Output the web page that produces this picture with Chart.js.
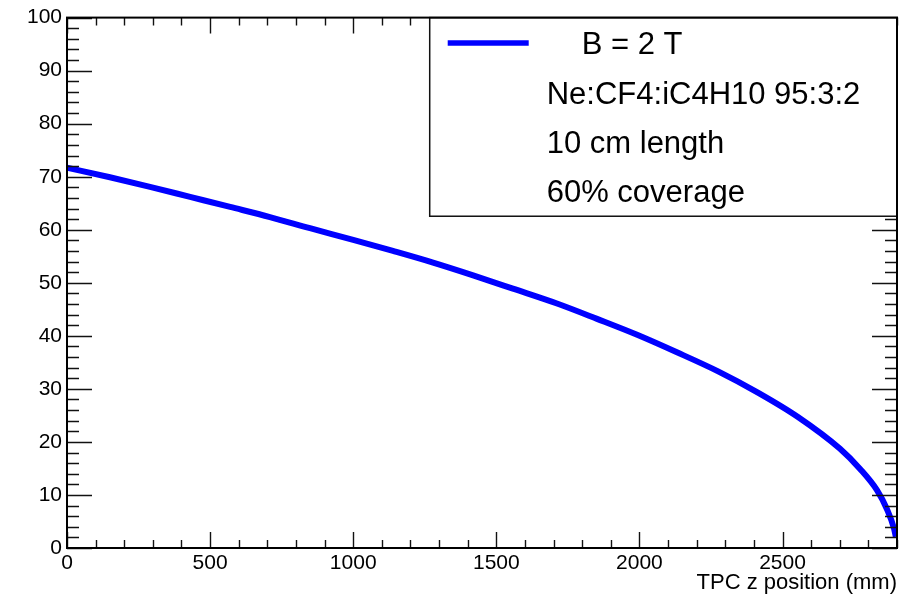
<!DOCTYPE html>
<html>
<head>
<meta charset="utf-8">
<script src="https://cdn.jsdelivr.net/npm/chart.js@4"></script>
<style>
  body { margin: 0; background: #fff; }
  canvas { display: block; }
</style>
</head>
<body>
<canvas id="gainChart" width="912" height="598"></canvas>
<script>
// Curve (TPC z position in mm -> value)
const zPos = [0, 150, 290, 430, 570, 709, 849, 1000, 1139, 1279, 1419, 1558, 1712, 1852, 1992, 2131, 2275, 2414, 2554, 2701, 2771, 2830, 2865, 2890, 2896];
const curveVals = [71.7, 69.9, 68.1, 66.2, 64.3, 62.4, 60.3, 58.1, 56.0, 53.8, 51.4, 48.9, 46.1, 43.2, 40.2, 36.9, 33.3, 29.3, 24.7, 18.7, 14.9, 10.9, 7.3, 3.6, 2.1];

// Axis ranges / tick labels
const xRange = [0, 2900];
const yRange = [0, 100];
const xTickVals = [0, 500, 1000, 1500, 2000, 2500];
const yTickVals = [0, 10, 20, 30, 40, 50, 60, 70, 80, 90, 100];
const xMinor = 100, yMinor = 2;

const xTitle = 'TPC z position (mm)';
const legendLabel = 'B = 2 T';
const legendNotes = ['Ne:CF4:iC4H10 95:3:2', '10 cm length', '60% coverage'];

const FONT = '"Liberation Sans", Arial, Helvetica, sans-serif';

// Draws ROOT-style inward ticks, the frame and the legend box
const rootFrame = {
    id: 'rootFrame',
    afterDatasetsDraw(chart) {
        const ctx = chart.ctx;
        const { left, right, top, bottom } = chart.chartArea;
        const xs = chart.scales.x, ys = chart.scales.y;

        ctx.save();
        ctx.strokeStyle = '#111';
        ctx.lineWidth = 1.4;
        ctx.beginPath();
        // x ticks (bottom and top)
        for (let v = xRange[0]; v <= xRange[1]; v += xMinor) {
            const px = Math.round(xs.getPixelForValue(v)) + 0.5;
            const len = xTickVals.includes(v) ? 16 : 8;
            ctx.moveTo(px, bottom); ctx.lineTo(px, bottom - len);
            ctx.moveTo(px, top); ctx.lineTo(px, top + len);
        }
        // y ticks (left and right)
        for (let v = yRange[0]; v <= yRange[1]; v += yMinor) {
            const py = Math.round(ys.getPixelForValue(v)) + 0.5;
            const len = yTickVals.includes(v) ? 25 : 12;
            ctx.moveTo(left, py); ctx.lineTo(left + len, py);
            ctx.moveTo(right, py); ctx.lineTo(right - len, py);
        }
        ctx.stroke();

        // legend box
        const lx = left + (right - left) * 0.437;
        const lb = top + (bottom - top) * 0.3745;
        ctx.fillStyle = '#fff';
        ctx.fillRect(lx, top, right - lx, lb - top);
        ctx.lineWidth = 1.5;
        ctx.strokeStyle = '#111';
        ctx.strokeRect(lx, top, right - lx, lb - top);

        ctx.strokeStyle = '#0000ff';
        ctx.lineWidth = 5.5;
        ctx.beginPath();
        ctx.moveTo(lx + 18, top + 25.5);
        ctx.lineTo(lx + 99, top + 25.5);
        ctx.stroke();

        ctx.fillStyle = '#000';
        ctx.font = '31px ' + FONT;
        ctx.textBaseline = 'alphabetic';
        ctx.textAlign = 'left';
        ctx.fillText(legendLabel, lx + 152, top + 36);
        legendNotes.forEach((t, i) => {
            ctx.fillText(t, lx + 117, top + 86 + i * 49);
        });

        // frame
        ctx.lineWidth = 2;
        ctx.strokeStyle = '#000';
        ctx.strokeRect(left, top, right - left, bottom - top);
        ctx.restore();
    }
};

new Chart(document.getElementById('gainChart'), {
    type: 'scatter',
    data: {
        datasets: [{
            label: legendLabel,
            data: zPos.map((z, i) => ({ x: z, y: curveVals[i] })),
            showLine: true,
            borderColor: '#0000ff',
            backgroundColor: '#0000ff',
            borderWidth: 6,
            pointRadius: 0,
            cubicInterpolationMode: 'monotone'
        }]
    },
    options: {
        responsive: false,
        animation: false,
        devicePixelRatio: 1,
        layout: { padding: { top: 14, right: 15, left: 0, bottom: 0 } },
        plugins: {
            legend: { display: false },
            tooltip: { enabled: false }
        },
        scales: {
            x: {
                type: 'linear',
                min: xRange[0],
                max: xRange[1],
                grid: { display: false, drawTicks: false },
                border: { display: false },
                afterBuildTicks(scale) { scale.ticks = xTickVals.map(v => ({ value: v })); },
                ticks: {
                    autoSkip: false,
                    maxRotation: 0,
                    padding: 3,
                    color: '#000',
                    font: { family: FONT, size: 21 },
                    callback: v => String(v)
                },
                title: {
                    display: true,
                    text: xTitle,
                    align: 'end',
                    color: '#000',
                    font: { family: FONT, size: 22 },
                    padding: { top: 0, bottom: 2 }
                },
                afterFit(scale) { scale.height = 50; }
            },
            y: {
                min: yRange[0],
                max: yRange[1],
                grid: { display: false, drawTicks: false },
                border: { display: false },
                afterBuildTicks(scale) { scale.ticks = yTickVals.map(v => ({ value: v })); },
                ticks: {
                    autoSkip: false,
                    padding: 5,
                    color: '#000',
                    font: { family: FONT, size: 21 },
                    callback: v => String(v)
                },
                afterFit(scale) { scale.width = 67; }
            }
        }
    },
    plugins: [rootFrame]
});
</script>
</body>
</html>
